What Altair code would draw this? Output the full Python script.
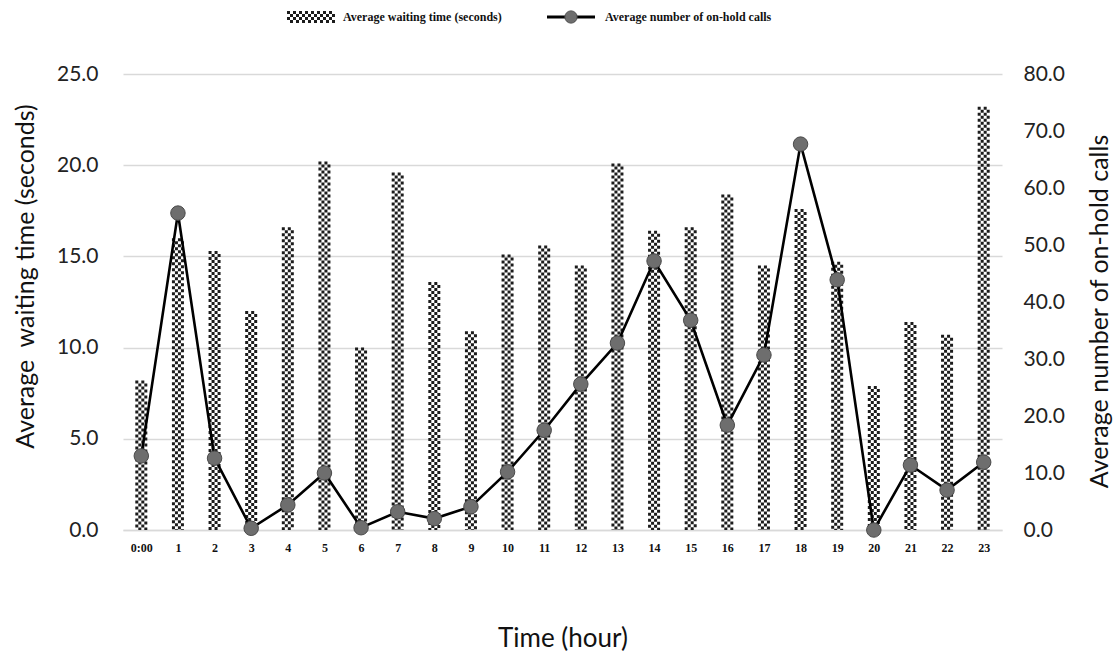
import altair as alt
import pandas as pd

hours = ["0:00"] + [str(h) for h in range(1, 24)]
waiting = [8.2, 16.0, 15.3, 12.0, 16.6, 20.2, 10.0, 19.6, 13.6, 10.9, 15.1, 15.6,
           14.5, 20.1, 16.4, 16.6, 18.4, 14.5, 17.6, 14.7, 7.9, 11.4, 10.7, 23.2]
onhold = [13.0, 55.6, 12.6, 0.3, 4.4, 10.0, 0.4, 3.2, 2.0, 4.1, 10.2, 17.5,
          25.6, 32.8, 47.2, 36.8, 18.4, 30.7, 67.7, 43.9, 0.0, 11.4, 7.0, 11.9]
legend_labels = ["Average waiting time (seconds)", "Average number of on-hold calls"]

df = pd.DataFrame({"hour": hours, "wait": waiting, "calls": onhold})

W, H = 879, 456
TF = 25
xenc = alt.X("hour:N", sort=hours, scale=alt.Scale(type="point", padding=0.5),
             axis=alt.Axis(title="Time (hour)", grid=False, ticks=False, labelAngle=0,
                           labelFont="Liberation Serif", labelFontWeight="bold",
                           labelFontSize=12, labelColor="#111", labelPadding=12,
                           domainColor="#d9d9d9", domainWidth=1.5,
                           titleFont="Lato", titleFontSize=TF + 1, titleFontWeight="normal",
                           titleColor="#111", titleY=108, titleBaseline="middle"))

left_axis = alt.Axis(title="Average\u00a0 waiting time (seconds)", values=[0, 5, 10, 15, 20, 25],
                     format=".1f", grid=True, gridColor="#d9d9d9", gridWidth=1.5,
                     ticks=False, domain=False, labelFont="Lato", labelFontSize=21,
                     labelColor="#222", labelPadding=25,
                     titleFont="Lato", titleFontSize=TF, titleFontWeight="normal",
                     titleColor="#111", titleX=-98, titleY=202, titleBaseline="middle",
                     titleAngle=270)
yw = alt.Y("wait:Q", scale=alt.Scale(domain=[0, 25], nice=False), axis=left_axis)

cols = []
for k, off in enumerate([-4.5, -1.5, 1.5, 4.5]):
    cols.append(
        alt.Chart(df).mark_rule(strokeWidth=3, strokeDash=[3, 3],
                                strokeDashOffset=3 * (k % 2), xOffset=off,
                                color="#1c1c1c", strokeCap="butt")
        .encode(x=xenc, y=yw, y2=alt.datum(0))
    )
bars = alt.layer(*cols)

right_axis = alt.Axis(title="Average number of on-hold calls", orient="right",
                      values=[0, 10, 20, 30, 40, 50, 60, 70, 80], format=".1f",
                      grid=False, ticks=False, domain=False, labelFont="Lato",
                      labelFontSize=21, labelColor="#222", labelPadding=21,
                      titleFont="Lato", titleFontSize=TF, titleFontWeight="normal",
                      titleColor="#111", titleAngle=270, titleX=97, titleY=237,
                      titleBaseline="middle")
yc = alt.Y("calls:Q", scale=alt.Scale(domain=[0, 80], nice=False), axis=right_axis)

line = alt.Chart(df).mark_line(color="black", strokeWidth=2.6).encode(x=xenc, y=yc)
pts = alt.Chart(df).mark_point(filled=True, size=210, fill="#6e6e6e", stroke="#4a4a4a",
                                strokeWidth=1, opacity=1).encode(x=xenc, y=yc)
calls_layer = alt.layer(line, pts)

one = pd.DataFrame({"a": [0]})
# legend: bar swatch as checkerboard
sw = []
for r, yoff in enumerate([-61.5, -58.5, -55.5, -52.5]):
    sw.append(alt.Chart(one).mark_rule(strokeWidth=3, strokeDash=[3, 3],
                                       strokeDashOffset=3 * (r % 2), color="#1c1c1c",
                                       strokeCap="butt")
              .encode(x=alt.value(164), x2=alt.value(212), y=alt.value(yoff)))
leg_t1 = alt.Chart(one).mark_text(align="left", baseline="middle", font="Liberation Serif",
                                  fontWeight="bold", fontSize=12, color="#111").encode(
    x=alt.value(220), y=alt.value(-57), text=alt.value(legend_labels[0]))
leg_line = alt.Chart(one).mark_rule(color="black", strokeWidth=3).encode(
    x=alt.value(424), x2=alt.value(472), y=alt.value(-57))
leg_pt = alt.Chart(one).mark_point(filled=True, size=150, fill="#6e6e6e", stroke="#4a4a4a",
                                   strokeWidth=1, opacity=1).encode(
    x=alt.value(448), y=alt.value(-57))
leg_t2 = alt.Chart(one).mark_text(align="left", baseline="middle", font="Liberation Serif",
                                  fontWeight="bold", fontSize=12, color="#111").encode(
    x=alt.value(482), y=alt.value(-57), text=alt.value(legend_labels[1]))

chart = alt.layer(bars, calls_layer, *sw, leg_t1, leg_line, leg_pt, leg_t2).resolve_scale(
    y="independent"
).properties(
    width=W, height=H, autosize="none",
    padding={"left": 123, "top": 74, "right": 112, "bottom": 122},
    background="white",
).configure_view(stroke=None)

chart.save("out.html", embed_options={"renderer": "svg", "actions": False})
